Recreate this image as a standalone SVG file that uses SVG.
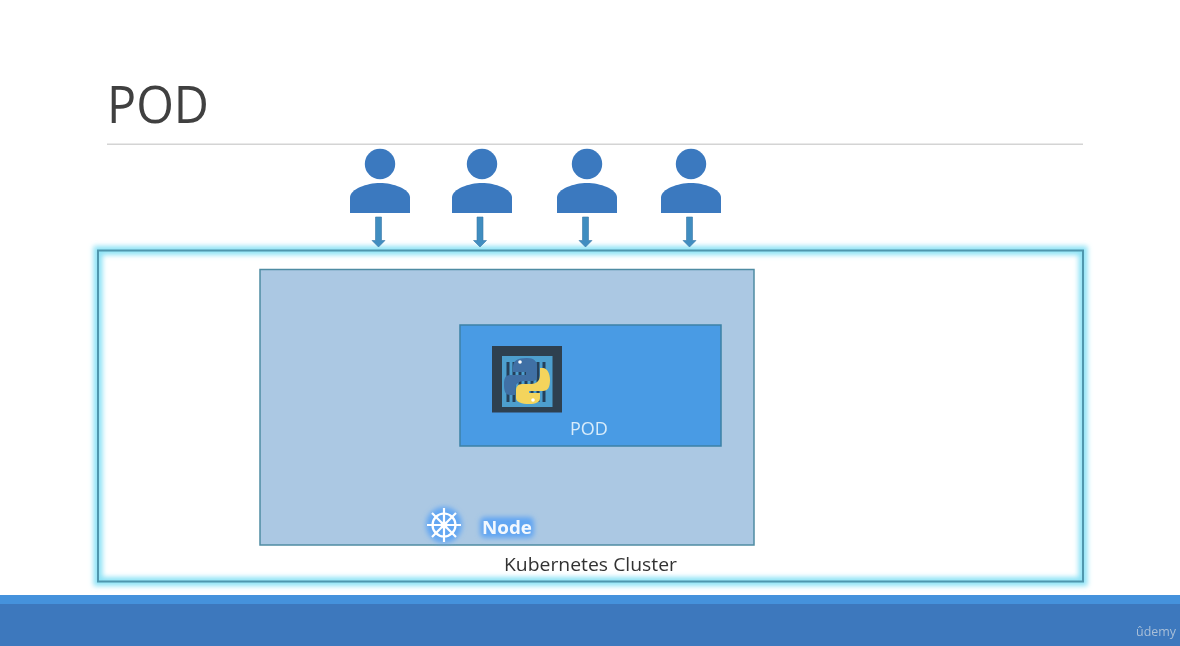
<svg xmlns="http://www.w3.org/2000/svg" xmlns:xlink="http://www.w3.org/1999/xlink" width="1180" height="646" viewBox="0 0 1180 646">
<defs>
<style>
.t{font-family:"Open Sans","Liberation Sans",sans-serif}
.person{fill:#3b79bf}
.arrow{fill:#3f8dc0;stroke:#3a78a8;stroke-width:.6}
</style>
<filter id="soft" filterUnits="userSpaceOnUse" x="0" y="0" width="1180" height="646"><feGaussianBlur stdDeviation="0.55"/></filter>
<filter id="glow" filterUnits="userSpaceOnUse" x="60" y="220" width="1060" height="400"><feGaussianBlur stdDeviation="2.4"/></filter>
<filter id="glow2" filterUnits="userSpaceOnUse" x="400" y="490" width="160" height="70"><feGaussianBlur stdDeviation="2.600"/></filter>
<symbol id="user" overflow="visible">
<circle cx="0" cy="0" r="15.200"/>
<path d="M-30 49V33.500C-30 25-13 19 0 19S30 25 30 33.500V49Z"/>
</symbol>
<symbol id="down" overflow="visible">
<path d="M-3 0H3V23.500H6.500L0 30L-6.500 23.500H-3Z"/>
</symbol>
</defs>
<rect width="1180" height="646" fill="#ffffff"/>
<g filter="url(#soft)">
<g id="title">
<text class="t" x="107" y="123" font-size="52" fill="#404040" textLength="102" lengthAdjust="spacingAndGlyphs">POD</text>
<rect x="107" y="143.500" width="976" height="1.500" fill="#d4d4d4"/>
</g>
<g id="cluster">
<rect x="98" y="250.500" width="985" height="331" fill="none" stroke="#8fe3f6" stroke-width="9" filter="url(#glow)"/>
<rect x="98" y="250.500" width="985" height="331" fill="none" stroke="#4f97ae" stroke-width="2"/>
<text class="t" x="504" y="571" font-size="18" fill="#333333" textLength="173" lengthAdjust="spacingAndGlyphs">Kubernetes Cluster</text>
</g>
<g id="node">
<rect x="260" y="269.500" width="494" height="275.500" fill="#abc8e3" stroke="#4f8ca3" stroke-width="1.500"/>
<g filter="url(#glow2)" fill="#62a6f2">
<circle cx="444" cy="525" r="18"/>
<rect x="480" y="517" width="54" height="21" rx="5"/>
</g>
<g id="helm" fill="none" stroke="#ffffff" stroke-width="2.200">
<circle cx="444" cy="525" r="11.500"/>
<circle cx="444" cy="525" r="3.500" fill="#ffffff" stroke="none"/>
<path d="M444 508V542M427 525H461M432 513L456 537M456 513L432 537"/>
</g>
<text class="t" x="482" y="534" font-size="18" font-weight="700" fill="#ffffff" fill-opacity="0.92" textLength="50" lengthAdjust="spacingAndGlyphs">Node</text>
</g>
<g id="pod">
<rect x="460" y="325" width="261" height="121" fill="#4a9be4" stroke="#3d81a6" stroke-width="1.500"/>
<g id="container">
<rect x="492" y="346" width="70" height="66.500" fill="#2f3f50"/>
<rect x="502" y="356" width="50.500" height="51" fill="#4d9fce"/>
<path d="M508 362V402M514 362V402M520 362V402M526 362V402M532 362V402M538 362V402M544 362V402" stroke="#25405a" stroke-width="3"/>
<path d="M527 358C517 358 513 361 513 367V372H526V375H510C505 375 504 379 504 385C504 392 506 395 510 395H515V389C515 384 519 381 524 381H533C537 381 537 378 537 375V367C537 361 534 358 527 358Z" fill="#3f6fa5"/>
<circle cx="520" cy="362" r="1.800" fill="#ffffff"/>
<path d="M540 368V375C540 381 536 384 531 384H522C518 384 516 387 516 390V398C516 402 522 404 529 404C536 404 540 402 540 398V393H529V391H543C548 391 550 387 550 380C550 373 547 368 543 368Z" fill="#f4d45c"/>
<circle cx="533" cy="400" r="1.800" fill="#ffffff"/>
</g>
<text class="t" x="570" y="435" font-size="18" fill="#d8ecfa">POD</text>
</g>
<g id="user1" class="person"><use xlink:href="#user" href="#user" x="380" y="164"/></g>
<g id="user2" class="person"><use xlink:href="#user" href="#user" x="482" y="164"/></g>
<g id="user3" class="person"><use xlink:href="#user" href="#user" x="587" y="164"/></g>
<g id="user4" class="person"><use xlink:href="#user" href="#user" x="691" y="164"/></g>
<g id="connectors" class="arrow">
<use xlink:href="#down" href="#down" x="378.500" y="217"/>
<use xlink:href="#down" href="#down" x="480" y="217"/>
<use xlink:href="#down" href="#down" x="585.500" y="217"/>
<use xlink:href="#down" href="#down" x="689.500" y="217"/>
</g>
<g id="footer">
<rect x="0" y="595" width="1180" height="51" fill="#3c78bd"/>
<rect x="0" y="595" width="1180" height="9" fill="#4592dc"/>
<text class="t" x="1136" y="636" font-size="12.500" fill="#a9bfd8" textLength="40" lengthAdjust="spacingAndGlyphs">ûdemy</text>
</g>
</g>
</svg>
